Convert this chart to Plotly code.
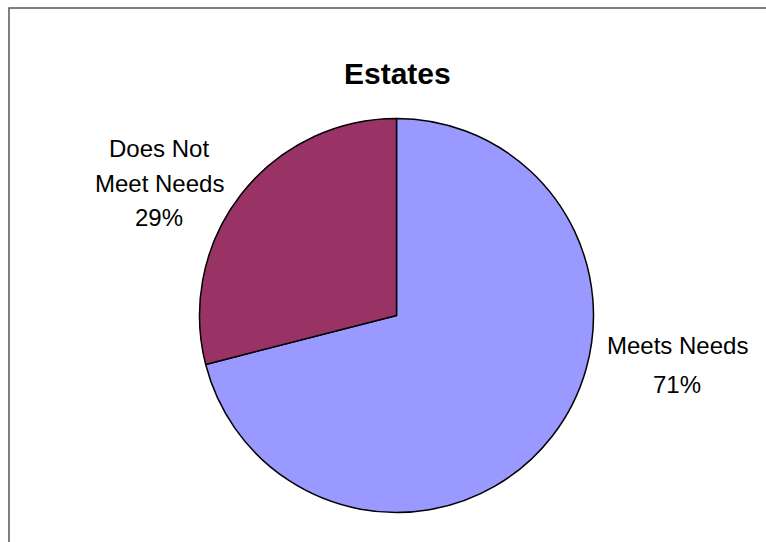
import plotly.graph_objects as go

# Survey result for estates
title = "Estates"
categories = ["Meets Needs", "Does Not Meet Needs"]
values = [71, 29]
label_lines = [["Meets Needs"], ["Does Not", "Meet Needs"]]
colors = ["#9999FF", "#993366"]

W, H = 766, 542
cx, cy, r = 396.5, 315.5, 197


def px(x):
    return x / W


def py(y):
    return 1 - y / H


fig = go.Figure(
    go.Pie(
        labels=categories,
        values=values,
        sort=False,
        direction="clockwise",
        rotation=0,
        marker=dict(colors=colors, line=dict(color="black", width=1.5)),
        textinfo="none",
        hoverinfo="label+percent",
        showlegend=False,
        domain=dict(x=[px(cx - r), px(cx + r)], y=[py(cy + r), py(cy - r)]),
    )
)

total = sum(values)
font = dict(family="Liberation Sans, Arial, sans-serif", size=24, color="black")
# text-line centres (pixels) for each slice's label block
label_x = [677, 159]
label_y = [[345, 384], [149, 183, 217]]
annotations = []
for lines, v, lx, ys in zip(label_lines, values, label_x, label_y):
    rows = lines + [f"{round(100 * v / total)}%"]
    for row, ly in zip(rows, ys):
        annotations.append(
            dict(
                x=px(lx), y=py(ly), xref="paper", yref="paper",
                text=row, showarrow=False,
                xanchor="center", yanchor="middle", font=font,
            )
        )

annotations.append(
    dict(
        x=px(397), y=py(73), xref="paper", yref="paper",
        text=f"<b>{title}</b>", showarrow=False,
        xanchor="center", yanchor="middle",
        font=dict(family="Liberation Sans, Arial, sans-serif", size=30, color="black"),
    )
)

fig.update_layout(
    width=W, height=H,
    margin=dict(l=0, r=0, t=0, b=0),
    paper_bgcolor="white",
    plot_bgcolor="white",
    annotations=annotations,
    shapes=[
        dict(
            type="rect", xref="paper", yref="paper",
            x0=px(9), x1=1.05, y0=-0.05, y1=py(8),
            line=dict(color="#555555", width=1.5),
            fillcolor="rgba(0,0,0,0)",
        )
    ],
)

fig.write_html("out.html", config={"displayModeBar": False})
